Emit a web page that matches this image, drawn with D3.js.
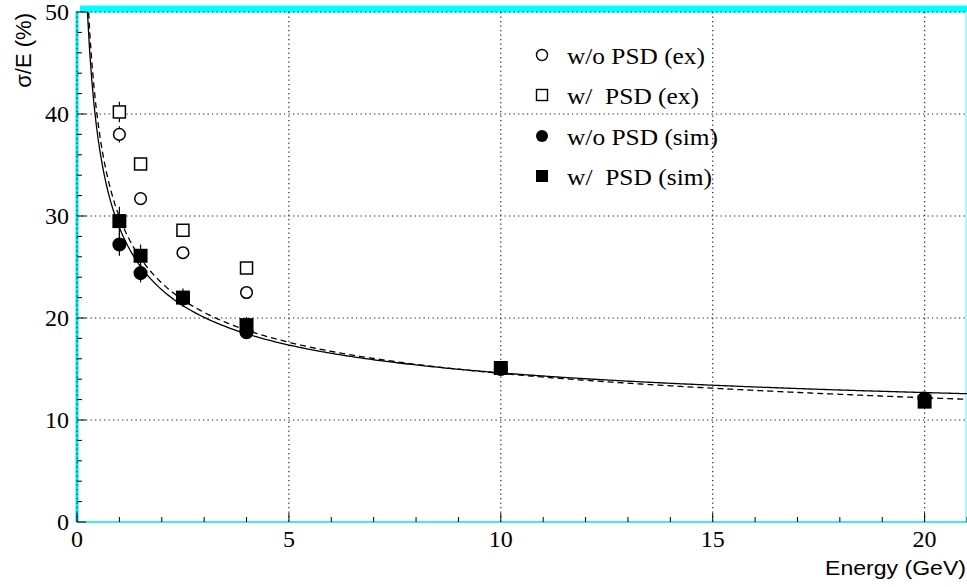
<!DOCTYPE html>
<html>
<head>
<meta charset="utf-8">
<script src="https://cdn.jsdelivr.net/npm/d3@7"></script>
<style>
  html, body { margin: 0; padding: 0; background: #fff; }
  svg { display: block; }
</style>
</head>
<body>
<svg id="chart" width="967" height="587"></svg>
<script>
// ---------------- data ----------------
const xTicksMajor = [0, 5, 10, 15, 20];
const yTicksMajor = [0, 10, 20, 30, 40, 50];
const xTicksMinor = d3.range(0, 22, 1);
const yTicksMinor = d3.range(0, 51, 2);

const energyEx = [1, 1.5, 2.5, 4];
const woPsdEx = [38.0, 31.7, 26.4, 22.5];
const woPsdExErr = [0.8, 0.5, 0.3, 0.3];
const wPsdEx = [40.2, 35.1, 28.6, 24.9];
const wPsdExErr = [1.0, 0.4, 0.3, 0.3];

const energySim = [1, 1.5, 2.5, 4, 10, 20];
const woPsdSim = [27.2, 24.4, 21.9, 18.6, 15.0, 12.1];
const woPsdSimErr = [1.1, 0.9, 0.5, 0.5, 0.4, 0.4];
const wPsdSim = [29.5, 26.1, 22.0, 19.3, 15.1, 11.8];
const wPsdSimErr = [1.4, 1.1, 0.9, 0.8, 0.3, 0.3];

// fit parameters: sigma/E = a/sqrt(E) + b + c*E
const solidFit = [20.84, 8.03, 0];
const dashedFit = [21.95, 7.98, -0.0353];

const legendLabels = ["w/o PSD (ex)", "w/  PSD (ex)", "w/o PSD (sim)", "w/  PSD (sim)"];

// ---------------- layout ----------------
const svg = d3.select("#chart");
const L = 77, R = 967, T = 12, B = 522;
const x = d3.scaleLinear().domain([0, 21]).range([L, R]);
const y = d3.scaleLinear().domain([0, 50]).range([B, T]);
const serif = "Liberation Serif, Times New Roman, Times, serif";
const sans = "Liberation Sans, Arial, Helvetica, sans-serif";

svg.append("defs").append("clipPath").attr("id", "plotclip")
  .append("rect").attr("x", L).attr("y", T).attr("width", R - L).attr("height", B - T);

// cyan frame pieces
svg.append("rect").attr("x", 80).attr("y", 5.5).attr("width", R - 80).attr("height", 7).attr("fill", "#00ffff");
svg.append("line").attr("x1", R - 1).attr("x2", R - 1).attr("y1", T).attr("y2", B)
  .attr("stroke", "#aaf8f8").attr("stroke-width", 2);

// grid
const grid = svg.append("g").attr("stroke", "#222").attr("stroke-width", 1.2).attr("stroke-dasharray", "1.3,3.2");
grid.selectAll(".gx").data(xTicksMajor.filter(d => d > 0)).join("line")
  .attr("x1", d => x(d)).attr("x2", d => x(d)).attr("y1", T).attr("y2", B);
grid.selectAll(".gy").data(yTicksMajor.filter(d => d > 0)).join("line")
  .attr("x1", L).attr("x2", R).attr("y1", d => y(d)).attr("y2", d => y(d));

// axes lines (cyan)
svg.append("line").attr("x1", L).attr("x2", L).attr("y1", T - 1).attr("y2", B)
  .attr("stroke", "#00e5e5").attr("stroke-width", 3);
svg.append("line").attr("x1", L).attr("x2", R).attr("y1", B).attr("y2", B)
  .attr("stroke", "#00e5e5").attr("stroke-width", 1.5);
svg.append("line").attr("x1", L).attr("x2", L).attr("y1", T).attr("y2", B)
  .attr("stroke", "#222").attr("stroke-width", 1).attr("stroke-dasharray", "1.3,3.2");

// ticks
const ticks = svg.append("g").attr("stroke", "#000").attr("stroke-width", 1);
ticks.selectAll(".tx").data(xTicksMinor.filter(d => d % 5 !== 0)).join("line")
  .attr("x1", d => x(d)).attr("x2", d => x(d)).attr("y1", B).attr("y2", B - 5);
ticks.selectAll(".txm").data(xTicksMajor).join("line")
  .attr("x1", d => x(d)).attr("x2", d => x(d)).attr("y1", B).attr("y2", B - 9);
ticks.selectAll(".ty").data(yTicksMinor.filter(d => d % 10 !== 0)).join("line")
  .attr("x1", L).attr("x2", L + 5).attr("y1", d => y(d)).attr("y2", d => y(d));
ticks.selectAll(".tym").data(yTicksMajor).join("line")
  .attr("x1", L).attr("x2", L + 9).attr("y1", d => y(d)).attr("y2", d => y(d));

// tick labels
svg.append("g").selectAll("text").data(xTicksMajor).join("text")
  .attr("font-family", serif)
  .attr("x", d => x(d)).attr("y", 547)
  .attr("text-anchor", "middle").attr("font-size", 24)
  .text(d => d);
svg.append("g").selectAll("text").data(yTicksMajor).join("text")
  .attr("font-family", serif)
  .attr("x", 69).attr("y", d => y(d) + 8)
  .attr("text-anchor", "end").attr("font-size", 24)
  .text(d => d);

// axis titles
svg.append("text").attr("font-family", sans).attr("x", 966).attr("y", 575).attr("text-anchor", "end")
  .attr("font-size", 21)
  .attr("textLength", 141).attr("lengthAdjust", "spacingAndGlyphs")
  .text("Energy (GeV)");
svg.append("text").attr("font-family", sans).attr("transform", "translate(31,13) rotate(-90)")
  .attr("text-anchor", "end").attr("font-size", 22)
  .text("σ/E (%)");

// fit curves
const plot = svg.append("g").attr("clip-path", "url(#plotclip)");
const fitFn = p => E => p[0] / Math.sqrt(E) + p[1] + p[2] * E;
const eSamples = d3.range(0.15, 21.05, 0.05);
const line = d3.line().x(d => x(d[0])).y(d => y(d[1])).curve(d3.curveLinear);
plot.append("path").datum(eSamples.map(E => [E, fitFn(solidFit)(E)]))
  .attr("d", line).attr("fill", "none").attr("stroke", "#000").attr("stroke-width", 1.3);
plot.append("path").datum(eSamples.map(E => [E, fitFn(dashedFit)(E)]))
  .attr("d", line).attr("fill", "none").attr("stroke", "#000").attr("stroke-width", 1.3)
  .attr("stroke-dasharray", "6,4");

// markers
function errorBars(g, ex, vals, errs) {
  g.selectAll(null).data(ex).join("line")
    .attr("x1", d => x(d)).attr("x2", d => x(d))
    .attr("y1", (d, i) => y(vals[i] + errs[i])).attr("y2", (d, i) => y(vals[i] - errs[i]))
    .attr("stroke", "#000").attr("stroke-width", 1.2);
}
function circles(g, ex, vals, filled, r) {
  g.selectAll(null).data(ex).join("circle")
    .attr("cx", d => x(d)).attr("cy", (d, i) => y(vals[i])).attr("r", r)
    .attr("fill", filled ? "#000" : "#fff").attr("stroke", "#000").attr("stroke-width", 1.5);
}
function squares(g, ex, vals, filled, s) {
  g.selectAll(null).data(ex).join("rect")
    .attr("x", d => x(d) - s / 2).attr("y", (d, i) => y(vals[i]) - s / 2)
    .attr("width", s).attr("height", s)
    .attr("fill", filled ? "#000" : "#fff").attr("stroke", "#000").attr("stroke-width", 1.5);
}
const m = svg.append("g");
errorBars(m, energyEx, woPsdEx, woPsdExErr);
circles(m, energyEx, woPsdEx, false, 5.8);
errorBars(m, energyEx, wPsdEx, wPsdExErr);
squares(m, energyEx, wPsdEx, false, 12);
errorBars(m, energySim, woPsdSim, woPsdSimErr);
circles(m, energySim, woPsdSim, true, 6.3);
errorBars(m, energySim, wPsdSim, wPsdSimErr);
squares(m, energySim, wPsdSim, true, 12.5);

// legend
const legY = [55, 95, 136, 176];
const legW = [138, 132, 151, 145];
const lg = svg.append("g");
const lx = 542;
lg.append("circle").attr("cx", lx).attr("cy", legY[0]).attr("r", 5.5).attr("fill", "#fff").attr("stroke", "#000").attr("stroke-width", 1.4);
lg.append("rect").attr("x", lx - 5.5).attr("y", legY[1] - 5.5).attr("width", 11).attr("height", 11).attr("fill", "#fff").attr("stroke", "#000").attr("stroke-width", 1.4);
lg.append("circle").attr("cx", lx).attr("cy", legY[2]).attr("r", 6).attr("fill", "#000");
lg.append("rect").attr("x", lx - 6).attr("y", legY[3] - 6).attr("width", 12).attr("height", 12).attr("fill", "#000");
lg.selectAll("text").data(legendLabels).join("text")
  .attr("font-family", serif)
  .attr("x", 567).attr("y", (d, i) => legY[i] + 9)
  .attr("font-size", 23)
  .attr("xml:space", "preserve").style("white-space", "pre")
  .attr("textLength", (d, i) => legW[i]).attr("lengthAdjust", "spacingAndGlyphs")
  .text(d => d);
</script>
</body>
</html>
